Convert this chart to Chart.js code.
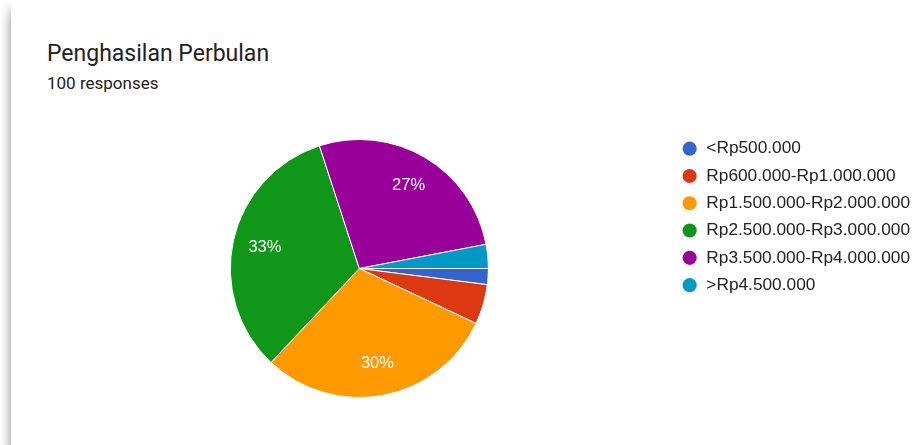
<!DOCTYPE html>
<html lang="en">
  <head>
    <meta charset="UTF-8">
    <title>Penghasilan Perbulan</title>
    <script src="https://cdn.jsdelivr.net/npm/chart.js@4.4.6/dist/chart.umd.min.js"></script>
    <style>
      html, body { margin: 0; padding: 0; background: #fff; overflow: hidden; }
      body { width: 920px; height: 445px; position: relative; font-family: Roboto, "Liberation Sans", Arial, sans-serif; }
      .edge { position: absolute; left: 0; top: 0; width: 11px; height: 445px;
        background: linear-gradient(to right, rgba(255,255,255,0) 0%, rgba(190,190,190,0.35) 55%, rgba(175,175,175,0.75) 100%);
        -webkit-mask-image: linear-gradient(to bottom, transparent 0px, #000 22px);
        mask-image: linear-gradient(to bottom, transparent 0px, #000 22px); }
      h1 { position: absolute; left: 47px; top: 42px; margin: 0; font-size: 23px; line-height: 1; font-weight: 400; color: #212121; }
      .sub { position: absolute; left: 47px; top: 75px; font-size: 17px; line-height: 1; color: #212121; }
      .wrap { position: absolute; left: 0; top: 0; width: 920px; height: 445px; }
    </style>
  </head>
  <body>
    <div class="edge"></div>
    <h1>Penghasilan Perbulan</h1>
    <div class="sub">100 responses</div>
    <div class="wrap"><canvas id="pie"></canvas></div>
    <script>
      const categories = [
        "<Rp500.000",
        "Rp600.000-Rp1.000.000",
        "Rp1.500.000-Rp2.000.000",
        "Rp2.500.000-Rp3.000.000",
        "Rp3.500.000-Rp4.000.000",
        ">Rp4.500.000"
      ];
      const responses = [2, 5, 30, 33, 27, 3];
      const colors = ["#3366cc", "#dc3912", "#ff9900", "#109618", "#990099", "#0099c6"];

      // percentage text inside the bigger slices
      const sliceLabels = {
        id: "sliceLabels",
        afterDatasetsDraw(chart) {
          const ctx = chart.ctx;
          const meta = chart.getDatasetMeta(0);
          const total = responses.reduce((a, b) => a + b, 0);
          ctx.save();
          ctx.fillStyle = "#ffffff";
          ctx.font = "16.5px 'Liberation Sans', Arial, sans-serif";
          ctx.textAlign = "center";
          ctx.textBaseline = "middle";
          meta.data.forEach((arc, i) => {
            const pct = Math.round(responses[i] / total * 100);
            if (pct < 10) return;
            const mid = (arc.startAngle + arc.endAngle) / 2;
            const r = arc.outerRadius * 0.75;
            ctx.fillText(pct + "%", arc.x + Math.cos(mid) * r, arc.y + Math.sin(mid) * r);
          });
          ctx.restore();
        }
      };

      new Chart(document.getElementById("pie"), {
        type: "pie",
        data: {
          labels: categories,
          datasets: [{
            data: responses,
            backgroundColor: colors,
            borderColor: "#ffffff",
            borderWidth: 1,
            radius: 129
          }]
        },
        options: {
          responsive: true,
          maintainAspectRatio: false,
          animation: false,
          rotation: 90,
          layout: { padding: { left: 47, top: 130, bottom: 38, right: 0 } },
          plugins: {
            tooltip: { enabled: false },
            legend: {
              position: "right",
              align: "start",
              labels: {
                usePointStyle: true,
                pointStyle: "circle",
                boxHeight: 10,
                boxWidth: 16,
                padding: 10,
                color: "#222222",
                font: { family: "'Liberation Sans', Arial, sans-serif", size: 17.3 },
                generateLabels(chart) {
                  const items = Chart.controllers.pie.overrides.plugins.legend.labels.generateLabels(chart);
                  return items.map(it => Object.assign(it, { lineWidth: 0, strokeStyle: it.fillStyle }));
                }
              }
            }
          }
        },
        plugins: [sliceLabels]
      });
    </script>
  </body>
</html>
